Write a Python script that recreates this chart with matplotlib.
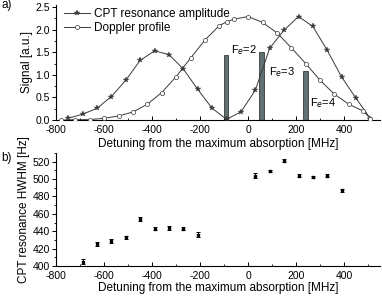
import numpy as np
import matplotlib
matplotlib.use("Agg")
import matplotlib.pyplot as plt
from matplotlib.ticker import MultipleLocator

plt.rcParams["font.family"] = ["Liberation Sans", "DejaVu Sans"]
plt.rcParams["axes.unicode_minus"] = False

# ── panel a) data ────────────────────────────────────────────
cpt_x = [-750, -690, -630, -570, -510, -450, -390, -330, -270, -210, -150,
         -90, -30, 30, 90, 150, 210, 270, 330, 390, 450, 510]
cpt_y = [0.04, 0.13, 0.26, 0.52, 0.88, 1.32, 1.53, 1.45, 1.13, 0.68, 0.26,
         0.02, 0.18, 0.66, 1.59, 1.99, 2.29, 2.07, 1.54, 0.95, 0.48, 0.03]

dop_x = [-780, -720, -660, -600, -540, -480, -420, -360, -300, -240, -180,
         -120, -90, -60, 0, 60, 120, 180, 240, 300, 360, 420, 480, 510]
dop_y = [0.0, 0.01, 0.01, 0.04, 0.09, 0.18, 0.35, 0.61, 0.96, 1.37, 1.77,
         2.09, 2.17, 2.23, 2.29, 2.16, 1.93, 1.60, 1.25, 0.88, 0.57, 0.35,
         0.20, 0.03]

bar_x = [-92, 56, 238]
bar_h = [1.44, 1.50, 1.08]
bar_labels = ["F$_e$=2", "F$_e$=3", "F$_e$=4"]
label_x = [-72, 86, 258]
label_y = [1.55, 1.06, 0.38]

# ── panel b) data ────────────────────────────────────────────
hw_x = [-690, -630, -570, -510, -450, -390, -330, -270, -210,
        30, 90, 150, 210, 270, 330, 390]
hw_y = [405, 425.5, 429, 433, 454, 443, 444, 443, 436,
        504, 509, 521, 504, 502.5, 504, 487]
hw_err = [3, 2.5, 2, 1.5, 2, 2, 2, 2, 3, 2.5, 1.5, 1.5, 2, 1.5, 2, 2]

xlabel = "Detuning from the maximum absorption [MHz]"
line_col = "#3a3a3a"

fig = plt.figure(figsize=(3.82, 2.98), dpi=100)
ax1 = fig.add_axes([0.147, 0.597, 0.848, 0.387])
ax2 = fig.add_axes([0.147, 0.107, 0.848, 0.380])

# ── Plot a ───────────────────────────────────────────────────
ax1.bar(bar_x, bar_h, width=20, color="#5f7171", edgecolor="#222222",
        linewidth=0.5, zorder=1)
ax1.plot(cpt_x, cpt_y, color=line_col, linewidth=0.7, marker="*",
         markersize=4, markerfacecolor=line_col, markeredgewidth=0.3,
         label="CPT resonance amplitude", zorder=3)
ax1.plot(dop_x, dop_y, color=line_col, linewidth=0.7, marker="o",
         markersize=3, markerfacecolor="white", markeredgewidth=0.5,
         label="Doppler profile", zorder=3)
for x, y, lab in zip(label_x, label_y, bar_labels):
    ax1.text(x, y, lab, fontsize=8, va="center", ha="left")
ax1.set_xlim(-800, 550)
ax1.set_ylim(0, 2.55)
ax1.set_ylabel("Signal [a.u.]", fontsize=8.5, labelpad=2)
ax1.set_xlabel(xlabel, fontsize=8.5, labelpad=2)
ax1.yaxis.set_major_locator(MultipleLocator(0.5))
ax1.yaxis.set_minor_locator(MultipleLocator(0.25))
ax1.yaxis.set_major_formatter(plt.FormatStrFormatter("%.1f"))
ax1.legend(loc="upper left", bbox_to_anchor=(0.0, 1.04), frameon=False,
           fontsize=8.5, handlelength=2.2, handletextpad=0.3,
           labelspacing=0.15, borderaxespad=0.3)
ax1.text(-0.17, 1.0, "a)", transform=ax1.transAxes, fontsize=8.5,
         va="center")

# ── Plot b ───────────────────────────────────────────────────
ax2.errorbar(hw_x, hw_y, yerr=hw_err, fmt="s", color="black", markersize=1.8,
             elinewidth=0.7, capsize=1.5, capthick=0.7)
ax2.set_xlim(-800, 550)
ax2.set_ylim(400, 530)
ax2.set_ylabel("CPT resonance HWHM [Hz]", fontsize=8.5, labelpad=2)
ax2.set_xlabel(xlabel, fontsize=8.5, labelpad=1)
ax2.yaxis.set_major_locator(MultipleLocator(20))
ax2.yaxis.set_minor_locator(MultipleLocator(10))
ax2.text(-0.168, 0.955, "b)", transform=ax2.transAxes, fontsize=8.5,
         va="center")

for ax in (ax1, ax2):
    ax.spines["top"].set_visible(False)
    ax.spines["right"].set_visible(False)
    ax.xaxis.set_major_locator(MultipleLocator(200))
    ax.xaxis.set_minor_locator(MultipleLocator(100))
    ax.tick_params(axis="both", which="major", labelsize=7.5, length=3,
                   width=0.7, pad=1.5)
    ax.tick_params(axis="x", which="major", pad=3.5)
    ax.tick_params(axis="both", which="minor", length=1.8, width=0.6)
    ax.tick_params(axis="x", which="both", direction="in")
    ax.tick_params(axis="y", which="both", direction="out")
    for s in ("left", "bottom"):
        ax.spines[s].set_linewidth(0.8)

plt.savefig("out.png", dpi=100)
